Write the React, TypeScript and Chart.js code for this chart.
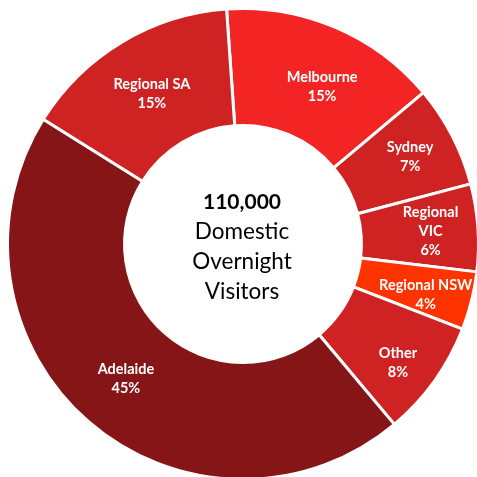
import React, { useEffect, useRef } from 'react';
import { Chart, registerables } from 'chart.js';

Chart.register(...registerables);

const categories = ['Melbourne', 'Sydney', 'Regional VIC', 'Regional NSW', 'Other', 'Adelaide', 'Regional SA'];
const shares = [15, 7, 6, 4, 8, 45, 15];
const labelLines = [['Melbourne'], ['Sydney'], ['Regional', 'VIC'], ['Regional NSW'], ['Other'], ['Adelaide'], ['Regional SA']];
const centerTitle = '110,000';
const centerLines = ['Domestic', 'Overnight', 'Visitors'];

const colors = ['#F22424', '#CF2323', '#CF2323', '#FF3300', '#CF2323', '#861517', '#CF2323'];
const labelNudge = [[10, 6], [10, -6], [11, 0], [11, 8], [11, 16], [-1, 1], [0, 2]];

const FONT = 'Lato, "Open Sans", sans-serif';

const labelPlugin = {
  id: 'sliceLabels',
  afterDatasetsDraw(chart: any) {
    const ctx = chart.ctx;
    const meta = chart.getDatasetMeta(0);
    ctx.save();
    ctx.textAlign = 'center';
    ctx.textBaseline = 'middle';
    meta.data.forEach((arc: any, i: number) => {
      const p = arc.getCenterPoint();
      const lines = [...labelLines[i], shares[i] + '%'];
      const lh = 19;
      const x = p.x + labelNudge[i][0];
      const y0 = p.y + labelNudge[i][1] - ((lines.length - 1) * lh) / 2;
      ctx.fillStyle = '#FFFFFF';
      ctx.font = `bold 14.5px ${FONT}`;
      lines.forEach((t, k) => ctx.fillText(t, x, y0 + k * lh));
    });
    const a0 = meta.data[0];
    const cx = a0.x - 1;
    const cy = a0.y;
    ctx.fillStyle = '#000000';
    ctx.font = `bold 21px ${FONT}`;
    ctx.fillText(centerTitle, cx, cy - 42);
    ctx.font = `22.5px ${FONT}`;
    centerLines.forEach((t, k) => ctx.fillText(t, cx, cy - 12 + k * 30));
    ctx.restore();
  },
};

export default function App() {
  const ref = useRef<HTMLCanvasElement>(null);
  useEffect(() => {
    if (!ref.current) return;
    const chart = new Chart(ref.current, {
      type: 'doughnut',
      data: {
        labels: categories,
        datasets: [
          {
            data: shares,
            backgroundColor: colors,
            borderColor: '#FFFFFF',
            borderWidth: 3,
          },
        ],
      },
      options: {
        responsive: false,
        animation: false,
        rotation: -4,
        cutout: '50.3%',
        layout: { padding: { left: 6, top: 7, right: 10, bottom: 9 } },
        plugins: { legend: { display: false }, tooltip: { enabled: false } },
      },
      plugins: [labelPlugin],
    });
    return () => chart.destroy();
  }, []);
  return (
    <div style={{ position: 'fixed', left: 0, top: 0, width: 477, height: 477, overflow: 'hidden', background: '#fff' }}>
      <canvas ref={ref} width={490} height={490} style={{ display: 'block', width: 490, height: 490 }} />
    </div>
  );
}
